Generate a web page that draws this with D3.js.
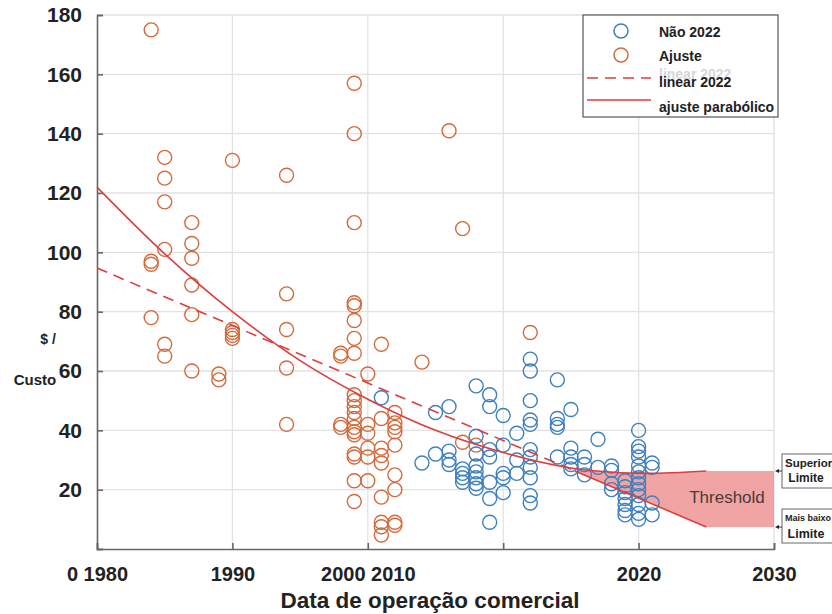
<!DOCTYPE html>
<html>
<head>
<meta charset="utf-8">
<script src="https://cdn.jsdelivr.net/npm/d3@7"></script>
<style>
  html, body { margin: 0; padding: 0; background: #fff; }
  svg { display: block; font-family: "Liberation Sans", Arial, sans-serif; }
</style>
</head>
<body>
<svg id="chart" width="832" height="614"></svg>
<script>
// Commissioning year vs. cost, with linear and parabolic fits and a threshold band.

// Axis ticks
const xTickYears  = [1980, 1990, 2000, 2010, 2020, 2030];
const xTickLabels = ["0 1980", "1990", "2000 2010", "", "2020", "2030"];
const yTickValues = [20, 40, 60, 80, 100, 120, 140, 160, 180];

// "Ajuste" series
const ajusteYears = [
  1984, 1984, 1984, 1984,
  1985, 1985, 1985, 1985, 1985, 1985,
  1987, 1987, 1987, 1987, 1987, 1987,
  1989, 1989,
  1990, 1990, 1990, 1990, 1990,
  1994, 1994, 1994, 1994, 1994,
  1998, 1998, 1998, 1998,
  1999, 1999, 1999, 1999, 1999, 1999, 1999, 1999, 1999, 1999, 1999, 1999, 1999, 1999, 1999, 1999, 1999, 1999, 1999, 1999,
  2000, 2000, 2000, 2000, 2000, 2000,
  2001, 2001, 2001, 2001, 2001, 2001, 2001, 2001, 2001,
  2002, 2002, 2002, 2002, 2002, 2002, 2002, 2002, 2002,
  2004, 2006, 2007, 2007, 2008, 2012
];
const ajusteCosts = [
  175, 97, 96, 78,
  132, 125, 117, 101, 69, 65,
  110, 103, 98, 89, 79, 60,
  59, 57,
  131, 74, 73, 72, 71,
  126, 86, 74, 61, 42,
  66, 65, 42, 41,
  157, 140, 110, 83, 82, 77, 71, 66, 52, 50, 48, 46, 44, 41, 39.5, 38.5, 32, 31, 23, 16,
  59, 42, 39, 34, 31, 23,
  69, 44, 34, 31.5, 29, 17.5, 9, 7.5, 4.7,
  46, 42.5, 41, 39.5, 35, 25, 20, 9, 8,
  63, 141, 108, 36, 35, 73
];

// "Não 2022" series
const naoYears = [
  2001, 2004,
  2005, 2005,
  2006, 2006, 2006, 2006,
  2007, 2007, 2007, 2007,
  2008, 2008, 2008, 2008, 2008, 2008, 2008, 2008,
  2009, 2009, 2009, 2009, 2009, 2009, 2009,
  2010, 2010, 2010, 2010, 2010,
  2011, 2011, 2011,
  2012, 2012, 2012, 2012, 2012, 2012, 2012, 2012, 2012, 2012, 2012,
  2014, 2014, 2014, 2014, 2014,
  2015, 2015, 2015, 2015, 2015,
  2016, 2016, 2016,
  2017, 2017,
  2018, 2018, 2018, 2018,
  2019, 2019, 2019, 2019, 2019, 2019, 2019,
  2020, 2020, 2020, 2020, 2020, 2020, 2020, 2020, 2020, 2020, 2020, 2020, 2020,
  2021, 2021, 2021, 2021
];
const naoCosts = [
  51, 29,
  46, 32,
  48, 33, 30, 28.5,
  27, 25.5, 24, 22.5,
  55, 38, 32, 28, 26, 24, 22, 20.5,
  52, 48, 33.5, 31, 22.5, 17, 9,
  45, 35, 25.5, 24, 19,
  39, 30, 25.5,
  64, 60, 50, 43.5, 42, 33.5, 31, 27.5, 24, 18, 15.5,
  57, 44, 42, 41, 31,
  47, 34, 31, 28.5, 27,
  31, 28.5, 25,
  37, 27.5,
  28, 26.5, 22, 20,
  23, 21, 19, 17, 15, 13, 11.5,
  40, 34.5, 33, 31, 28, 26, 24, 22, 20, 18, 15, 12, 10,
  29, 27.5, 15.5, 11.5
];

// Fitted curves
const linearYears = [1980, 2015.3, 2025];
const linearCosts = [94.7, 26.3, 7.4];
const paraboleYears = [1980, 1985, 1990, 1995, 2000, 2005, 2010, 2015, 2020, 2025];
const paraboleCosts = [122, 99.5, 80, 63.5, 50.5, 40, 32.5, 27.3, 25.5, 26.3];

// Threshold band between the two fits, held flat to 2030
const bandYears = [2015.3, 2017, 2020, 2022.5, 2025, 2030];
const bandUpper = [26.3, 26.4, 25.5, 25.7, 26.3, 26.3];
const bandLower = [26.3, 23.0, 17.2, 12.3, 7.4, 7.4];

const C = {
  blue: "#3d7fc0",
  orange: "#d46a3c",
  red: "#dc3f3f",
  band: "#f09a9a",
  grid: "#e2e2e2",
  axis: "#666",
  text: "#222"
};

const svg = d3.select("#chart");
const x = d3.scaleLinear().domain([1980, 2030]).range([97, 774]);
const y = d3.scaleLinear().domain([0, 180]).range([549, 15]);

// grid
const grid = svg.append("g");
grid.selectAll("line.h").data(yTickValues).join("line")
  .attr("x1", x(1980)).attr("x2", x(2030))
  .attr("y1", d => y(d)).attr("y2", d => y(d))
  .attr("stroke", C.grid).attr("stroke-width", 1.3);
grid.selectAll("line.v").data(xTickYears.slice(1)).join("line")
  .attr("x1", d => x(d)).attr("x2", d => x(d))
  .attr("y1", y(0)).attr("y2", y(180))
  .attr("stroke", C.grid).attr("stroke-width", 1.3);

// threshold band
const bandData = bandYears.map((yr, i) => ({ yr, hi: bandUpper[i], lo: bandLower[i] }));
svg.append("path").datum(bandData)
  .attr("d", d3.area().x(d => x(d.yr)).y0(d => y(d.lo)).y1(d => y(d.hi)))
  .attr("fill", C.band).attr("fill-opacity", 0.9);

svg.append("text")
  .attr("x", 727).attr("y", 503).attr("text-anchor", "middle")
  .attr("font-size", 17).attr("fill", "#4a3a3a")
  .text("Threshold");

// axes
const yAxis = d3.axisLeft(y).tickValues([0].concat(yTickValues)).tickSize(-6).tickFormat(d => d === 0 ? "" : d);
const gy = svg.append("g").attr("transform", `translate(${x(1980)},0)`).call(yAxis);
gy.select(".domain").attr("stroke", C.axis).attr("stroke-width", 1.6);
gy.selectAll(".tick line").attr("stroke", C.axis).attr("stroke-width", 1.6);
gy.selectAll(".tick text").attr("x", -15).attr("font-size", 21).attr("font-weight", "bold")
  .attr("fill", C.text).attr("font-family", "'Liberation Sans', Arial, sans-serif");

const xAxis = d3.axisBottom(x).tickValues(xTickYears).tickSize(-6)
  .tickFormat((d, i) => xTickLabels[i]);
const gx = svg.append("g").attr("transform", `translate(0,${y(0)})`).call(xAxis);
gx.select(".domain").attr("stroke", C.axis).attr("stroke-width", 1.6);
gx.selectAll(".tick line").attr("stroke", C.axis).attr("stroke-width", 1.6);
gx.selectAll(".tick text").attr("y", 18).attr("font-size", 20).attr("font-weight", "bold")
  .attr("fill", C.text).attr("font-family", "'Liberation Sans', Arial, sans-serif");

// axis titles
svg.append("text").attr("x", 48).attr("y", 344).attr("text-anchor", "middle")
  .attr("font-size", 14).attr("font-weight", "bold").attr("fill", C.text).text("$ /");
svg.append("text").attr("x", 35).attr("y", 385).attr("text-anchor", "middle")
  .attr("font-size", 15).attr("font-weight", "bold").attr("fill", C.text).text("Custo");
svg.append("text").attr("x", 430).attr("y", 608).attr("text-anchor", "middle")
  .attr("font-size", 22.5).attr("font-weight", "bold").attr("fill", C.text)
  .text("Data de operação comercial");

// scatter
const ajuste = ajusteYears.map((yr, i) => ({ yr, v: ajusteCosts[i] }));
const nao = naoYears.map((yr, i) => ({ yr, v: naoCosts[i] }));
svg.append("g").selectAll("circle").data(ajuste).join("circle")
  .attr("cx", d => x(d.yr)).attr("cy", d => y(d.v)).attr("r", 7)
  .attr("fill", "none").attr("stroke", C.orange).attr("stroke-width", 1.4);
svg.append("g").selectAll("circle").data(nao).join("circle")
  .attr("cx", d => x(d.yr)).attr("cy", d => y(d.v)).attr("r", 7)
  .attr("fill", "none").attr("stroke", C.blue).attr("stroke-width", 1.4);

// fits
const linearPts = linearYears.map((yr, i) => ({ yr, v: linearCosts[i] }));
const line = d3.line().x(d => x(d.yr)).y(d => y(d.v));
svg.append("path").datum(linearPts.slice(0, 2)).attr("d", line)
  .attr("fill", "none").attr("stroke", C.red).attr("stroke-width", 1.6)
  .attr("stroke-dasharray", "11,7");
svg.append("path").datum(linearPts.slice(1)).attr("d", line)
  .attr("fill", "none").attr("stroke", C.red).attr("stroke-width", 1.6);

const parabolePts = paraboleYears.map((yr, i) => ({ yr, v: paraboleCosts[i] }));
svg.append("path").datum(parabolePts)
  .attr("d", d3.line().x(d => x(d.yr)).y(d => y(d.v)).curve(d3.curveCatmullRom))
  .attr("fill", "none").attr("stroke", C.red).attr("stroke-width", 1.6);

// limit call-outs on the right edge
const callouts = [
  { v: bandUpper[bandUpper.length - 1], top: 454, lines: [["Superior", 11.5, 785, 467, "start"], ["Limite", 12, 806, 482, "middle"]] },
  { v: bandLower[bandLower.length - 1], top: 509, lines: [["Mais baixo", 9, 785, 521, "start"], ["Limite", 12.5, 806, 538, "middle"]] }
];
callouts.forEach(c => {
  const g = svg.append("g");
  g.append("rect").attr("x", 782).attr("y", c.top).attr("width", 60).attr("height", 34)
    .attr("fill", "#fff").attr("stroke", "#666").attr("stroke-width", 1);
  g.append("line").attr("x1", 782).attr("x2", 777).attr("y1", y(c.v)).attr("y2", y(c.v))
    .attr("stroke", "#333").attr("stroke-width", 1);
  g.append("path").attr("d", `M${775},${y(c.v)} l4,-2 v4 z`).attr("fill", "#222");
  c.lines.forEach(([t, fs, tx, ty, anchor]) => {
    g.append("text").attr("x", tx).attr("y", ty).attr("text-anchor", anchor)
      .attr("font-size", fs).attr("font-weight", "bold").attr("fill", C.text).text(t);
  });
});

// legend
const lg = svg.append("g");
lg.append("rect").attr("x", 583).attr("y", 15).attr("width", 195).attr("height", 102)
  .attr("fill", "#fff").attr("stroke", "#555").attr("stroke-width", 1.2);
lg.append("circle").attr("cx", 621).attr("cy", 31).attr("r", 7)
  .attr("fill", "none").attr("stroke", C.blue).attr("stroke-width", 1.5);
lg.append("circle").attr("cx", 621).attr("cy", 55).attr("r", 7)
  .attr("fill", "none").attr("stroke", C.orange).attr("stroke-width", 1.5);
lg.append("line").attr("x1", 587).attr("x2", 651).attr("y1", 78).attr("y2", 78)
  .attr("stroke", C.red).attr("stroke-width", 1.6).attr("stroke-dasharray", "11,7");
lg.append("line").attr("x1", 587).attr("x2", 651).attr("y1", 100).attr("y2", 100)
  .attr("stroke", C.red).attr("stroke-width", 1.6);
lg.append("text").attr("x", 659).attr("y", 79).attr("font-size", 14).attr("font-weight", "bold")
  .attr("fill", "#bbb").attr("opacity", 0.6).text("linear 2022");
const legendTexts = [["Não 2022", 37], ["Ajuste", 61], ["linear 2022", 87], ["ajuste parabólico", 112]];
legendTexts.forEach(([t, ty]) => {
  lg.append("text").attr("x", 659).attr("y", ty).attr("font-size", 14).attr("font-weight", "bold")
    .attr("fill", C.text).text(t);
});
</script>
</body>
</html>
